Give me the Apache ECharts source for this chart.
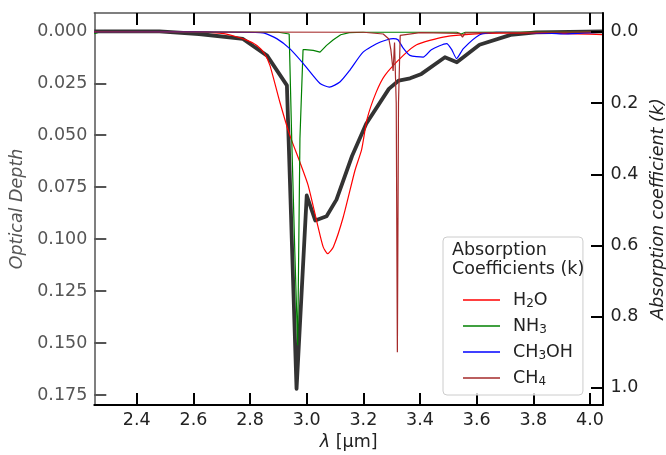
<!DOCTYPE html>
<html>
<head>
<meta charset="utf-8">
<script src="https://cdn.jsdelivr.net/npm/echarts@6/dist/echarts.min.js"></script>
<style>
  html, body { margin: 0; padding: 0; background: #fff; }
  #chart { width: 666px; height: 455px; }
</style>
</head>
<body>
<div id="chart"></div>
<script>
  const xTicks = [2.4, 2.6, 2.8, 3.0, 3.2, 3.4, 3.6, 3.8, 4.0];
  const odTicks = [0, 0.025, 0.05, 0.075, 0.1, 0.125, 0.15, 0.175];
  const kTicks = [0, 0.2, 0.4, 0.6, 0.8, 1.0];

  const odLam = [2.25, 2.48, 2.62, 2.775, 2.86, 2.93, 2.964, 3.0, 3.03, 3.07, 3.105, 3.16, 3.21, 3.29, 3.325, 3.365, 3.405, 3.488, 3.53, 3.61, 3.72, 3.81, 4.046];
  const opticalDepth = [0.0, 0.0, 0.0013, 0.0037, 0.0117, 0.026, 0.172, 0.079, 0.091, 0.089, 0.081, 0.060, 0.0445, 0.0277, 0.0237, 0.0226, 0.0205, 0.0125, 0.0149, 0.0065, 0.0017, 0.0005, 0.0];

  const h2oLam = [2.25, 2.6, 2.7, 2.74, 2.79, 2.824, 2.85, 2.87, 2.905, 2.94, 2.976, 3.005, 3.04, 3.058, 3.074, 3.094, 3.129, 3.17, 3.194, 3.213, 3.245, 3.276, 3.341, 3.388, 3.482, 3.611, 3.79, 4.046];
  const h2oK = [0, 0, 0.004, 0.011, 0.024, 0.038, 0.06, 0.094, 0.197, 0.29, 0.366, 0.431, 0.548, 0.604, 0.623, 0.604, 0.52, 0.39, 0.33, 0.245, 0.17, 0.122, 0.066, 0.036, 0.0146, 0.005, 0.003, 0.008];

  const nh3Lam = [2.25, 2.27, 2.9, 2.938, 2.947, 2.958, 2.968, 2.976, 2.987, 2.995, 3.023, 3.047, 3.07, 3.094, 3.12, 3.15, 3.2, 3.53, 3.545, 3.56, 4.046];
  const nh3K = [0.005, 0.0, 0.001, 0.006, 0.3, 0.62, 0.88, 0.3, 0.05, 0.05, 0.052, 0.057, 0.038, 0.022, 0.008, 0.002, 0.001, 0.001, 0.006, 0.001, 0.0];

  const ch3ohLam = [2.25, 2.6, 2.75, 2.846, 2.894, 2.94, 2.988, 3.047, 3.08, 3.117, 3.152, 3.199, 3.258, 3.305, 3.322, 3.34, 3.364, 3.411, 3.44, 3.494, 3.512, 3.529, 3.553, 3.611, 3.67, 3.8, 3.905, 3.98, 4.046];
  const ch3ohK = [0, 0, 0.001, 0.003, 0.019, 0.047, 0.089, 0.145, 0.155, 0.141, 0.108, 0.057, 0.029, 0.019, 0.022, 0.045, 0.066, 0.071, 0.05, 0.033, 0.05, 0.075, 0.047, 0.008, 0.001, 0.002, 0.006, 0.003, 0.001];

  const ch4Lam = [2.25, 3.2, 3.27, 3.29, 3.297, 3.305, 3.31, 3.316, 3.32, 3.324, 3.33, 3.4, 3.54, 3.55, 3.56, 4.046];
  const ch4K = [0, 0.001, 0.006, 0.02, 0.05, 0.11, 0.03, 0.2, 0.9, 0.2, 0.01, 0.002, 0.004, 0.015, 0.003, 0];

  const legendLabels = {
    'H2O': '{g|}{t|H}{s|2}{t|O}',
    'NH3': '{g|}{t|NH}{s|3}',
    'CH3OH': '{g|}{t|CH}{s|3}{t|OH}',
    'CH4': '{g|}{t|CH}{s|4}'
  };

  function zip (xs, ys) {
    let out = [];
    for (let i = 0; i < xs.length; i++) {
      out.push([xs[i], ys[i]]);
    }
    return out;
  }

  let myChart = echarts.init(document.getElementById('chart'));
  const font = 'DejaVu Sans';
  const gray = '#555';

  function kSeries (name, lam, k, color, smooth) {
    return {
      name: name,
      type: 'line',
      xAxisIndex: 0,
      yAxisIndex: 1,
      data: zip(lam, k),
      symbol: 'none',
      smooth: smooth,
      z: 3,
      lineStyle: { color: color, width: 1.2 },
      itemStyle: { color: color }
    };
  }

  myChart.setOption({
    animation: false,
    textStyle: { fontFamily: font },
    grid: { left: 94.3, right: 63, top: 13, bottom: 50, outerBoundsMode: 'none', containLabel: false },
    title: {
      text: 'Absorption\nCoefficients (k)',
      left: 452,
      top: 241,
      padding: 0,
      z: 10,
      textStyle: { fontFamily: font, fontSize: 17.5, fontWeight: 'normal', color: '#222', lineHeight: 19 }
    },
    legend: {
      orient: 'vertical',
      left: 443,
      top: 237,
      padding: [54, 10, 7, 20],
      icon: 'rect',
      itemWidth: 37,
      itemHeight: 1.4,
      itemGap: 7,
      selectedMode: false,
      borderColor: '#cccccc',
      borderWidth: 1,
      borderRadius: 4,
      backgroundColor: 'rgba(255,255,255,0.8)',
      data: ['H2O', 'NH3', 'CH3OH', 'CH4'],
      formatter: function (name) {
        return legendLabels[name];
      },
      textStyle: {
        width: 80,
        rich: {
          g: { width: 8 },
          t: { fontFamily: font, fontSize: 17.5, lineHeight: 20, color: '#222' },
          s: { fontFamily: font, fontSize: 12, lineHeight: 10, verticalAlign: 'bottom', color: '#222' }
        }
      }
    },
    xAxis: [{
      type: 'value',
      position: 'bottom',
      min: 2.25,
      max: 4.046,
      name: '{i|λ} [µm]',
      nameLocation: 'middle',
      nameGap: 25,
      nameTextStyle: {
        fontSize: 17.5,
        color: '#222',
        rich: { i: { fontStyle: 'italic', fontSize: 17.5, color: '#222', fontFamily: font } }
      },
      axisLine: { onZero: false, lineStyle: { color: '#000', width: 2 } },
      axisTick: { inside: true, length: 12, lineStyle: { color: '#000', width: 2 }, customValues: xTicks },
      axisLabel: { color: '#222', fontSize: 17.5, margin: 6, customValues: xTicks, formatter: function (v) { return v.toFixed(1); } },
      splitLine: { show: false }
    }, {
      type: 'value',
      position: 'top',
      min: 2.25,
      max: 4.046,
      axisLine: { onZero: false, lineStyle: { color: gray, width: 1.5 } },
      axisTick: { inside: true, length: 12, lineStyle: { color: '#000', width: 2 }, customValues: xTicks },
      axisLabel: { show: false },
      splitLine: { show: false }
    }],
    yAxis: [{
      type: 'value',
      position: 'left',
      inverse: true,
      min: -0.0088,
      max: 0.1798,
      name: 'Optical Depth',
      nameLocation: 'middle',
      nameGap: 66,
      nameTextStyle: { fontStyle: 'italic', fontSize: 17.5, color: gray },
      axisLine: { show: true, onZero: false, lineStyle: { color: gray, width: 1.5 } },
      axisTick: { show: true, inside: true, length: 12, lineStyle: { color: gray, width: 2 }, customValues: odTicks },
      axisLabel: { color: gray, fontSize: 17.5, margin: 7, customValues: odTicks, formatter: function (v) { return v.toFixed(3); } },
      splitLine: { show: false }
    }, {
      type: 'value',
      position: 'right',
      inverse: true,
      min: -0.053,
      max: 1.048,
      z: 10,
      name: 'Absorption coefficient (k)',
      nameLocation: 'middle',
      nameRotate: 90,
      nameGap: 45,
      nameTextStyle: { fontStyle: 'italic', fontSize: 17.5, color: '#222' },
      axisLine: { show: true, onZero: false, lineStyle: { color: '#000', width: 2 } },
      axisTick: { show: true, inside: true, length: 12, lineStyle: { color: '#000', width: 2 }, customValues: kTicks },
      axisLabel: { color: '#222', fontSize: 17.5, margin: 7.5, customValues: kTicks, formatter: function (v) { return v.toFixed(1); } },
      splitLine: { show: false }
    }],
    series: [{
      name: 'Optical Depth',
      type: 'line',
      xAxisIndex: 0,
      yAxisIndex: 0,
      data: zip(odLam, opticalDepth),
      symbol: 'none',
      z: 2,
      lineStyle: { color: '#333', width: 3.8, join: 'round' }
    },
      kSeries('H2O', h2oLam, h2oK, '#ff0000', 0.2),
      kSeries('NH3', nh3Lam, nh3K, '#008000', false),
      kSeries('CH3OH', ch3ohLam, ch3ohK, '#0000ff', 0.2),
      kSeries('CH4', ch4Lam, ch4K, '#a52a2a', false)
    ]
  });
</script>
</body>
</html>
